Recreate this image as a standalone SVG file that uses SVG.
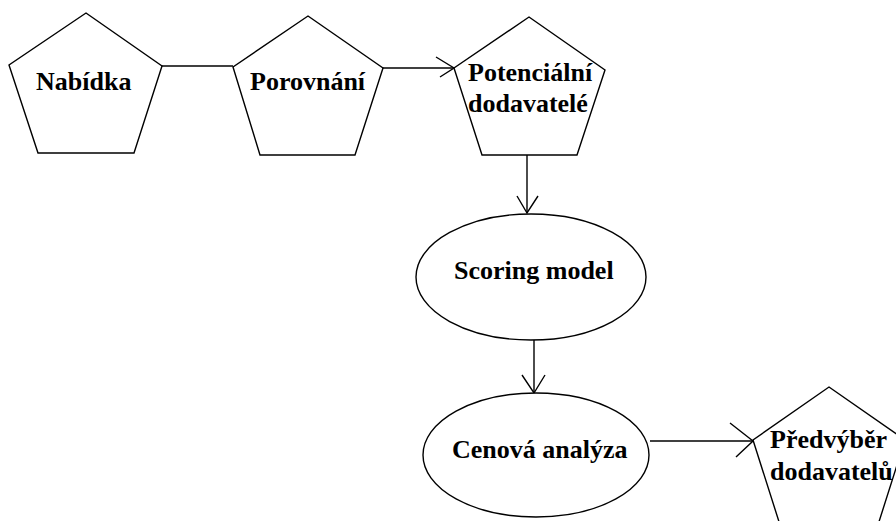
<svg xmlns="http://www.w3.org/2000/svg" width="896" height="521" viewBox="0 0 896 521">
  <style>
    .shape { fill: #fff; stroke: #000; stroke-width: 1.4; }
    .edge { fill: none; stroke: #000; stroke-width: 1.4; }
    .label { font-family: "Liberation Serif", "Times New Roman", serif; font-weight: bold; font-size: 26px; fill: #000; }
  </style>
  <rect width="896" height="521" fill="#fff"/>

  <!-- connectors -->
  <g id="connectors">
    <line class="edge" x1="162" y1="66" x2="233" y2="66"/>
    <line class="edge" x1="383" y1="68" x2="454" y2="68"/>
    <polyline class="edge" points="436,57 454,68 440,77"/>
    <line class="edge" x1="527" y1="155" x2="527" y2="213"/>
    <polyline class="edge" points="517,196 527,213 538,196"/>
    <line class="edge" x1="534" y1="340" x2="534" y2="393"/>
    <polyline class="edge" points="522,375 534,393 545,375"/>
    <line class="edge" x1="650" y1="441" x2="753" y2="441"/>
    <polyline class="edge" points="730,423 753,441 736,457"/>
  </g>

  <g id="nabidka">
    <polygon class="shape" points="86,13 162,66 134,153 38,153 9,65"/>
    <text class="label" x="36" y="90">Nabídka</text>
  </g>

  <g id="porovnani">
    <polygon class="shape" points="308,16 383,68 355,155 260,155 233,67"/>
    <text class="label" x="250" y="90">Porovnání</text>
  </g>

  <g id="potencialni-dodavatele">
    <polygon class="shape" points="529,17 605,70 577,155 482,155 454,68"/>
    <text class="label" x="468" y="81">Potenciální</text>
    <text class="label" x="468" y="112">dodavatelé</text>
  </g>

  <g id="scoring-model">
    <ellipse class="shape" cx="531" cy="277" rx="115" ry="63"/>
    <text class="label" x="454" y="279">Scoring model</text>
  </g>

  <g id="cenova-analyza">
    <ellipse class="shape" cx="536" cy="455" rx="113" ry="62"/>
    <text class="label" x="452" y="458">Cenová analýza</text>
  </g>

  <g id="predvyber-dodavatelu">
    <polygon class="shape" points="829,387 905,440 877,528 781,528 753,440"/>
    <text class="label" x="770" y="448">Předvýběr</text>
    <text class="label" x="770" y="480">dodavatelů</text>
  </g>
</svg>
